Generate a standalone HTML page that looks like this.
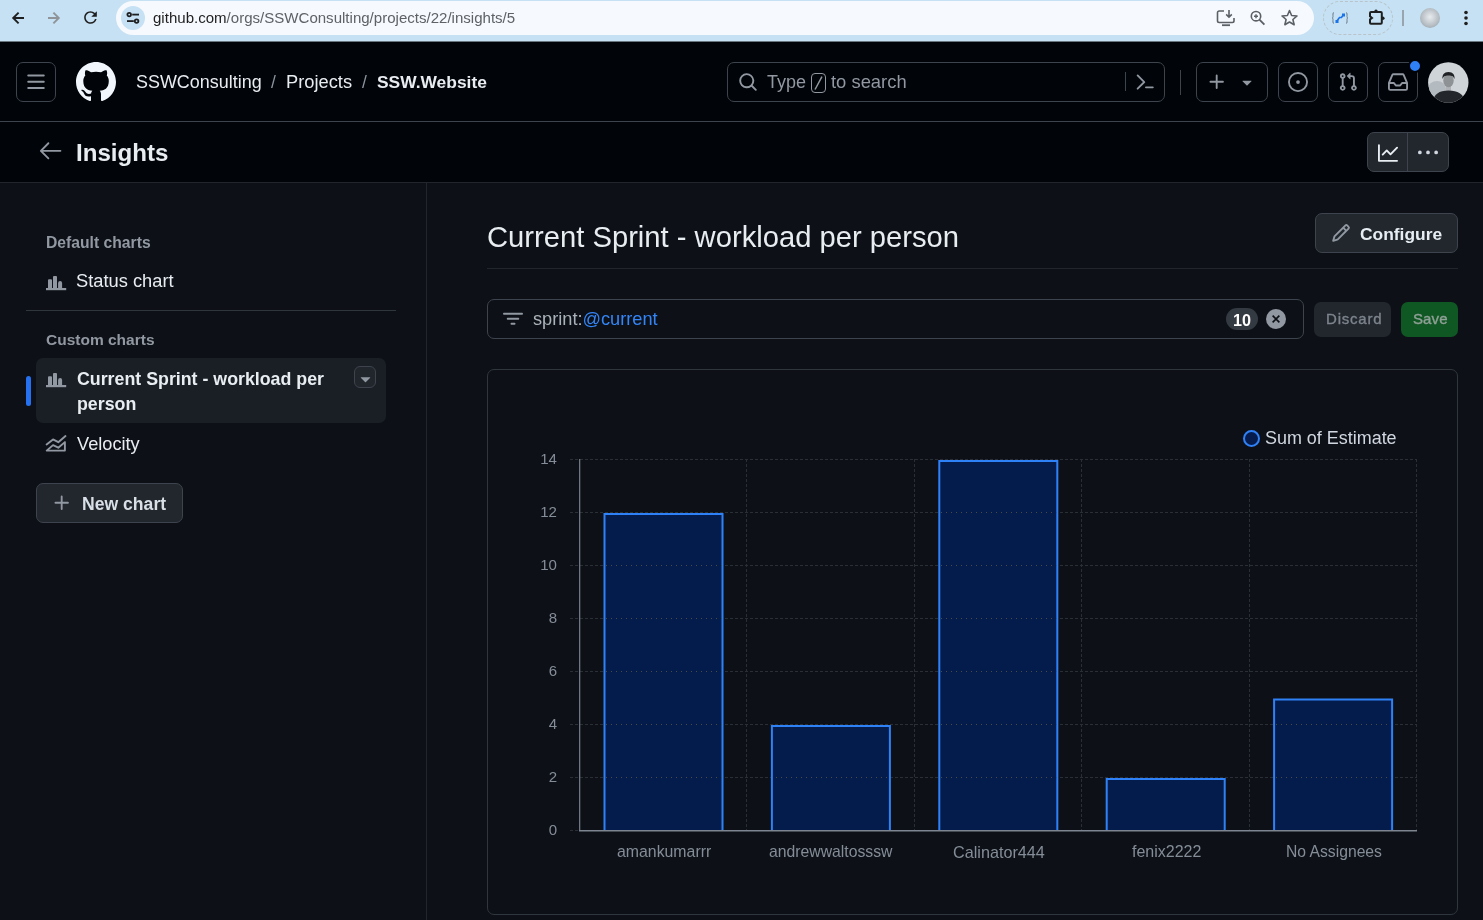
<!DOCTYPE html>
<html><head><meta charset="utf-8"><title>Insights</title>
<style>
html,body{margin:0;padding:0;}
body{width:1483px;height:920px;overflow:hidden;position:relative;background:#0d1117;font-family:"Liberation Sans",sans-serif;}
.t{position:absolute;white-space:nowrap;will-change:transform;line-height:1.1172;}
svg{display:block;}
</style></head><body>

<div style="position:absolute;left:0px;top:0px;width:1483px;height:41px;background:#c5e1f3;"></div>
<div style="position:absolute;left:0px;top:41px;width:1483px;height:1px;background:#6b7680;"></div>
<svg style="position:absolute;left:0px;top:0px;" width="110" height="36" viewBox="0 0 110 36"><path d="M24 18H13.6M18.6 12.6 13.2 18l5.4 5.4" fill="none" stroke="#1f1f1f" stroke-width="1.9"/><path d="M48 18h10.4M53.4 12.6 58.8 18l-5.4 5.4" fill="none" stroke="#8f9499" stroke-width="1.9"/></svg>
<svg style="position:absolute;left:80.8px;top:8.2px;" width="19" height="19" viewBox="0 0 24 24"><path d="M17.65 6.35A7.958 7.958 0 0 0 12 4c-4.42 0-7.99 3.58-7.99 8s3.57 8 7.99 8c3.73 0 6.84-2.55 7.73-6h-2.08A5.99 5.99 0 0 1 12 18c-3.31 0-6-2.69-6-6s2.69-6 6-6c1.66 0 3.14.69 4.22 1.78L13 11h7V4l-2.35 2.35z" fill="#1f1f1f"/></svg>
<div style="position:absolute;left:116px;top:1px;width:1198px;height:34px;background:#f6f9fd;border-radius:17px;"></div>
<div style="position:absolute;left:121px;top:6px;width:24px;height:24px;background:#c5e1f3;border-radius:50%;"></div>
<svg style="position:absolute;left:126px;top:11px;" width="14" height="14" viewBox="0 0 14 14"><circle cx="3.2" cy="3.6" r="1.8" fill="none" stroke="#1f1f1f" stroke-width="1.8"/><rect x="6.2" y="2.7" width="6.8" height="1.8" fill="#1f1f1f"/><circle cx="10.6" cy="10.1" r="1.8" fill="none" stroke="#1f1f1f" stroke-width="1.8"/><rect x="1" y="9.2" width="6.8" height="1.8" fill="#1f1f1f"/></svg>
<div class="t" style="left:153.00px;top:9.78px;font-size:15.05px;color:#5e6266;"><span style="color:#1f1f1f">github.com</span>/orgs/SSWConsulting/projects/22/insights/5</div>
<svg style="position:absolute;left:1216px;top:9px;" width="20" height="18" viewBox="0 0 20 18"><path d="M8 2H3.2A1.7 1.7 0 0 0 1.5 3.7v8.1a1.7 1.7 0 0 0 1.7 1.7h13.1a1.7 1.7 0 0 0 1.7-1.7V9" fill="none" stroke="#5b6066" stroke-width="1.6"/><path d="M6 16.2h8" stroke="#5b6066" stroke-width="1.8"/><path d="M13 1v7M10.2 5.4 13 8.2l2.8-2.8" fill="none" stroke="#5b6066" stroke-width="1.6"/></svg>
<svg style="position:absolute;left:1249px;top:10px;" width="18" height="18" viewBox="0 0 18 18"><circle cx="7" cy="6.2" r="4.7" fill="none" stroke="#5b6066" stroke-width="1.6"/><path d="M10.4 9.6l5 5" stroke="#5b6066" stroke-width="1.8"/><path d="M7 4.2v4M5 6.2h4" stroke="#5b6066" stroke-width="1.4"/></svg>
<svg style="position:absolute;left:1280px;top:9px;" width="19" height="18" viewBox="0 0 24 24"><path d="M12 17.27 18.18 21l-1.64-7.03L22 9.24l-7.19-.61L12 2 9.19 8.63 2 9.24l5.46 4.73L5.82 21z" fill="none" stroke="#5b6066" stroke-width="2.1" stroke-linejoin="round"/></svg>
<div style="position:absolute;left:1323px;top:1px;width:70px;height:34px;border:1px dashed #b9c3ca;border-radius:17px;box-sizing:border-box;"></div>
<svg style="position:absolute;left:1331px;top:11px;" width="18" height="14" viewBox="0 0 18 14"><path d="M3 1.5C1.6 1.5 2 4 2 5.5S1 7 1 7s1 0 1 1.5-.4 4 1 4M15 1.5c1.4 0 1 2.5 1 4S17 7 17 7s-1 0-1 1.5.4 4-1 4" fill="none" stroke="#6a7a88" stroke-width="1"/><path d="M5.5 10.5l3-4 2 0 2-3" fill="none" stroke="#1a73e8" stroke-width="1.6"/><rect x="4.5" y="9" width="3" height="3" fill="#1a73e8"/><rect x="11" y="2.5" width="3" height="3" fill="#1a73e8"/></svg>
<svg style="position:absolute;left:1366px;top:8px;" width="22" height="20" viewBox="0 0 22 20"><path d="M5 4h9.8a1 1 0 0 1 1 1v9.8a1 1 0 0 1-1 1H5a1 1 0 0 1-1-1v-3.3l2-1.6-2-1.6V5a1 1 0 0 1 1-1z" fill="none" stroke="#1f1f1f" stroke-width="2"/><circle cx="10" cy="3.2" r="1.7" fill="#1f1f1f"/><circle cx="16.8" cy="10.2" r="1.8" fill="#1f1f1f"/></svg>
<div style="position:absolute;left:1402px;top:10px;width:2px;height:16px;background:#98a4ae;"></div>
<div style="position:absolute;left:1420px;top:8px;width:20px;height:20px;border-radius:50%;background:radial-gradient(circle at 50% 45%,#e8ecef 0,#b9c0c6 55%,#8e979f 100%);"></div>
<svg style="position:absolute;left:1462px;top:10px;" width="8" height="16" viewBox="0 0 8 16"><circle cx="4" cy="2.5" r="1.8" fill="#1f1f1f"/><circle cx="4" cy="8" r="1.8" fill="#1f1f1f"/><circle cx="4" cy="13.5" r="1.8" fill="#1f1f1f"/></svg>
<div style="position:absolute;left:0px;top:42px;width:1483px;height:79px;background:#010409;"></div>
<div style="position:absolute;left:0px;top:121px;width:1483px;height:1px;background:#3d444d;"></div>
<div style="position:absolute;left:16px;top:62px;width:40px;height:40px;border:1px solid #3d444d;border-radius:7px;box-sizing:border-box;"></div>
<svg style="position:absolute;left:26px;top:72px;" width="20" height="20" viewBox="0 0 16 16"><path d="M1 2.75A.75.75 0 0 1 1.75 2h12.5a.75.75 0 0 1 0 1.5H1.75A.75.75 0 0 1 1 2.75Zm0 5A.75.75 0 0 1 1.75 7h12.5a.75.75 0 0 1 0 1.5H1.75A.75.75 0 0 1 1 7.75ZM1.75 12h12.5a.75.75 0 0 1 0 1.5H1.75a.75.75 0 0 1 0-1.5Z" fill="#9198a1"/></svg>
<svg style="position:absolute;left:76px;top:62px;" width="40" height="40" viewBox="0 0 16 16"><path fill-rule="evenodd" d="M8 0c4.42 0 8 3.58 8 8a8.013 8.013 0 0 1-5.45 7.59c-.4.08-.55-.17-.55-.38 0-.27.01-1.13.01-2.2 0-.75-.25-1.23-.54-1.48 1.78-.2 3.65-.88 3.65-3.95 0-.88-.31-1.59-.82-2.15.08-.2.36-1.02-.08-2.12 0 0-.67-.22-2.2.82-.64-.18-1.32-.27-2-.27-.68 0-1.36.09-2 .27-1.53-1.03-2.2-.82-2.2-.82-.44 1.1-.16 1.920-.08 2.12-.51.56-.82 1.28-.82 2.15 0 3.06 1.86 3.75 3.64 3.95-.23.2-.44.55-.51 1.07-.46.21-1.61.55-2.33-.66-.15-.24-.6-.83-1.23-.82-.67.01-.27.38.01.53.34.19.73.9.82 1.13.16.45.68 1.31 2.69.94 0 .67.01 1.3.01 1.49 0 .21-.15.45-.55.38A7.995 7.995 0 0 1 0 8c0-4.42 3.58-8 8-8Z" fill="#f0f6fc"/></svg>
<div class="t" style="left:136.00px;top:72.35px;font-size:17.95px;color:#e8edf2;">SSWConsulting</div>
<div class="t" style="left:271.00px;top:72.76px;font-size:17.5px;color:#8b949e;">/</div>
<div class="t" style="left:286.00px;top:72.03px;font-size:18.3px;color:#e8edf2;">Projects</div>
<div class="t" style="left:362.00px;top:72.76px;font-size:17.5px;color:#8b949e;">/</div>
<div class="t" style="left:377.00px;top:72.85px;font-size:17.4px;color:#e8edf2;font-weight:700;">SSW.Website</div>
<div style="position:absolute;left:727px;top:62px;width:438px;height:40px;border:1px solid #3d444d;border-radius:7px;box-sizing:border-box;"></div>
<svg style="position:absolute;left:738px;top:72px;" width="20" height="20" viewBox="0 0 16 16"><path d="M10.68 11.74a6 6 0 0 1-7.922-8.982 6 6 0 0 1 8.982 7.922l3.04 3.04a.749.749 0 0 1-.326 1.275.749.749 0 0 1-.734-.215ZM11.5 7a4.499 4.499 0 1 0-8.997 0A4.499 4.499 0 0 0 11.5 7Z" fill="#9198a1"/></svg>
<div class="t" style="left:767.00px;top:72.30px;font-size:18.0px;color:#9198a1;">Type</div>
<div style="position:absolute;left:811px;top:73px;width:15px;height:20px;border:1px solid #9198a1;border-radius:4px;box-sizing:border-box;"></div>
<svg style="position:absolute;left:811px;top:73px;" width="15" height="20" viewBox="0 0 15 20"><path d="M10.7 4.1 4.3 16" stroke="#9198a1" stroke-width="1.5" stroke-linecap="round"/></svg>
<div class="t" style="left:831.00px;top:71.94px;font-size:18.4px;color:#9198a1;">to search</div>
<div style="position:absolute;left:1125px;top:72px;width:1px;height:19px;background:#3d444d;"></div>
<svg style="position:absolute;left:1135px;top:72px;" width="20" height="20" viewBox="0 0 16 16"><path d="m6.354 8.04-4.773 4.756a.75.75 0 1 0 1.061 1.06L7.945 8.57a.75.75 0 0 0 0-1.06L2.642 2.206a.75.75 0 0 0-1.06 1.061L6.353 8.04ZM8.75 11.5a.75.75 0 0 0 0 1.5h5.5a.75.75 0 0 0 0-1.5h-5.5Z" fill="#9198a1"/></svg>
<div style="position:absolute;left:1180px;top:70px;width:1px;height:25px;background:#3d444d;"></div>
<div style="position:absolute;left:1196px;top:62px;width:72px;height:40px;border:1px solid #3d444d;border-radius:7px;box-sizing:border-box;"></div>
<svg style="position:absolute;left:1207px;top:72px;" width="20" height="20" viewBox="0 0 16 16"><path d="M7.75 2a.75.75 0 0 1 .75.75V7h4.25a.75.75 0 0 1 0 1.5H8.5v4.25a.75.75 0 0 1-1.5 0V8.5H2.75a.75.75 0 0 1 0-1.5H7V2.75A.75.75 0 0 1 7.75 2Z" fill="#9198a1"/></svg>
<svg style="position:absolute;left:1237px;top:72px;" width="20" height="20" viewBox="0 0 16 16"><path d="m4.427 7.427 3.396 3.396a.25.25 0 0 0 .354 0l3.396-3.396A.25.25 0 0 0 11.396 7H4.604a.25.25 0 0 0-.177.427Z" fill="#9198a1"/></svg>
<div style="position:absolute;left:1278px;top:62px;width:40px;height:40px;border:1px solid #3d444d;border-radius:7px;box-sizing:border-box;"></div>
<svg style="position:absolute;left:1288px;top:72px;" width="20" height="20" viewBox="0 0 16 16"><path d="M8 9.5a1.5 1.5 0 1 0 0-3 1.5 1.5 0 0 0 0 3Z" fill="#9198a1"/><path d="M8 0a8 8 0 1 1 0 16A8 8 0 0 1 8 0ZM1.5 8a6.5 6.5 0 1 0 13 0 6.5 6.5 0 0 0-13 0Z" fill="#9198a1"/></svg>
<div style="position:absolute;left:1328px;top:62px;width:40px;height:40px;border:1px solid #3d444d;border-radius:7px;box-sizing:border-box;"></div>
<svg style="position:absolute;left:1338px;top:72px;" width="20" height="20" viewBox="0 0 16 16"><path d="M1.5 3.25a2.25 2.25 0 1 1 3 2.122v5.256a2.251 2.251 0 1 1-1.5 0V5.372A2.25 2.25 0 0 1 1.5 3.25Zm5.677-.177L9.573.677A.25.25 0 0 1 10 .854V2.5h1A2.5 2.5 0 0 1 13.5 5v5.628a2.251 2.251 0 1 1-1.5 0V5a1 1 0 0 0-1-1h-1v1.646a.25.25 0 0 1-.427.177L7.177 3.427a.25.25 0 0 1 0-.354ZM3.75 2.5a.75.75 0 1 0 0 1.5.75.75 0 0 0 0-1.5Zm0 9.5a.75.75 0 1 0 0 1.5.75.75 0 0 0 0-1.5Zm8.25.75a.75.75 0 1 0 1.5 0 .75.75 0 0 0-1.5 0Z" fill="#9198a1"/></svg>
<div style="position:absolute;left:1378px;top:62px;width:40px;height:40px;border:1px solid #3d444d;border-radius:7px;box-sizing:border-box;"></div>
<svg style="position:absolute;left:1388px;top:72px;" width="20" height="20" viewBox="0 0 16 16"><path d="M2.8 2.06A1.75 1.75 0 0 1 4.41 1h7.18c.7 0 1.333.417 1.61 1.06l2.74 6.395c.04.093.06.194.06.295v4.5A1.75 1.75 0 0 1 14.25 15H1.75A1.75 1.75 0 0 1 0 13.25v-4.5c0-.101.02-.202.06-.295Zm1.61.44a.25.25 0 0 0-.23.152L1.887 8H4.75a.75.75 0 0 1 .6.3L6.625 10h2.75l1.275-1.7a.75.75 0 0 1 .6-.3h2.863L11.82 2.652a.25.25 0 0 0-.23-.152Zm10.09 7h-2.875l-1.275 1.7a.75.75 0 0 1-.6.3h-3.5a.75.75 0 0 1-.6-.3L4.375 9.5H1.5v3.75c0 .138.112.25.25.25h12.5a.25.25 0 0 0 .25-.25Z" fill="#9198a1"/></svg>
<div style="position:absolute;left:1408px;top:59px;width:14px;height:14px;background:#2f7ff5;border-radius:50%;border:2px solid #010409;box-sizing:border-box;"></div>
<svg style="position:absolute;left:1428px;top:62px" width="41" height="41" viewBox="0 0 41 41"><defs><clipPath id="av"><circle cx="20.3" cy="20.5" r="20.2"/></clipPath></defs><g clip-path="url(#av)"><rect width="41" height="41" fill="#cfd4d8"/><ellipse cx="9" cy="27" rx="9" ry="8" fill="#b3bac0"/><rect x="18" y="22" width="5" height="7" fill="#b0b3b6"/><ellipse cx="20.5" cy="18.5" rx="5.2" ry="6.8" fill="#8f9295"/><path d="M14.5 17c-.5-4 1.5-7 6-7s6.5 3 6 7c-1-2.5-2-3.5-6-3.5s-5 1-6 3.5z" fill="#1f2124"/><path d="M4 41C6 32 11 28.5 20.5 28.5S35 32 38 40v1z" fill="#23272b"/></g></svg>
<div style="position:absolute;left:0px;top:122px;width:1483px;height:60px;background:#010409;"></div>
<div style="position:absolute;left:0px;top:182px;width:1483px;height:1px;background:#21262d;"></div>
<svg style="position:absolute;left:36.2px;top:135.8px;" width="29" height="29" viewBox="0 0 24 24"><path d="M10.78 19.03a.75.75 0 0 1-1.06 0l-6.25-6.25a.75.75 0 0 1 0-1.06l6.25-6.25a.749.749 0 0 1 1.275.326.749.749 0 0 1-.215.734L5.81 11.5h14.44a.75.75 0 0 1 0 1.5H5.81l4.97 4.97a.75.75 0 0 1 0 1.06Z" fill="#9198a1"/></svg>
<div class="t" style="left:76.00px;top:140.18px;font-size:24.1px;color:#e8edf2;font-weight:700;">Insights</div>
<div style="position:absolute;left:1367px;top:132px;width:82px;height:40px;background:#22272e;border:1px solid #3d444d;border-radius:7px;box-sizing:border-box;"></div>
<div style="position:absolute;left:1407px;top:132px;width:1px;height:40px;background:#3d444d;"></div>
<svg style="position:absolute;left:1378px;top:143px;" width="20" height="20" viewBox="0 0 16 16"><path d="M1.5 1.75V13.5h13.75a.75.75 0 0 1 0 1.5H.75a.75.75 0 0 1-.75-.75V1.75a.75.75 0 0 1 1.5 0Zm14.28 2.53-5.25 5.25a.75.75 0 0 1-1.06 0L7 7.06 4.28 9.78a.751.751 0 0 1-1.042-.018.751.751 0 0 1-.018-1.042l3.25-3.25a.75.75 0 0 1 1.06 0L10 7.94l4.72-4.72a.751.751 0 0 1 1.042.018.751.751 0 0 1 .018 1.042Z" fill="#e8edf2"/></svg>
<svg style="position:absolute;left:1418px;top:143px;" width="20" height="20" viewBox="0 0 16 16"><path d="M8 9a1.5 1.5 0 1 0 0-3 1.5 1.5 0 0 0 0 3ZM1.5 9a1.5 1.5 0 1 0 0-3 1.5 1.5 0 0 0 0 3Zm13 0a1.5 1.5 0 1 0 0-3 1.5 1.5 0 0 0 0 3Z" fill="#d1d7e0"/></svg>
<div style="position:absolute;left:426px;top:183px;width:1px;height:737px;background:#21262d;"></div>
<div class="t" style="left:46.00px;top:233.69px;font-size:15.7px;color:#9198a1;font-weight:700;">Default charts</div>
<svg style="position:absolute;left:46px;top:276px;" width="21" height="15" viewBox="0 0 21 15"><rect x="0" y="12" width="20.2" height="2.2" fill="#9198a1"/><path d="M2 12V4.2a1 1 0 0 1 1-1h2a1 1 0 0 1 1 1V12z" fill="#9198a1"/><path d="M7 12V1a1 1 0 0 1 1-1h2a1 1 0 0 1 1 1v11z" fill="#9198a1"/><path d="M12.1 12V7a2 2 0 0 1 4 0v5z" fill="#9198a1"/></svg>
<div class="t" style="left:76.00px;top:271.43px;font-size:18.3px;color:#e8edf2;">Status chart</div>
<div style="position:absolute;left:26px;top:310px;width:370px;height:1px;background:#30363d;"></div>
<div class="t" style="left:46.00px;top:330.97px;font-size:15.5px;color:#9198a1;font-weight:700;">Custom charts</div>
<div style="position:absolute;left:36px;top:358px;width:350px;height:65px;background:#1a1f26;border-radius:7px;"></div>
<div style="position:absolute;left:26px;top:376px;width:5px;height:30px;background:#2671f0;border-radius:3px;"></div>
<svg style="position:absolute;left:46px;top:373px;" width="21" height="15" viewBox="0 0 21 15"><rect x="0" y="12" width="20.2" height="2.2" fill="#9198a1"/><path d="M2 12V4.2a1 1 0 0 1 1-1h2a1 1 0 0 1 1 1V12z" fill="#9198a1"/><path d="M7 12V1a1 1 0 0 1 1-1h2a1 1 0 0 1 1 1v11z" fill="#9198a1"/><path d="M12.1 12V7a2 2 0 0 1 4 0v5z" fill="#9198a1"/></svg>
<div class="t" style="left:77.00px;top:370.29px;font-size:17.8px;color:#e8edf2;font-weight:700;">Current Sprint - workload per</div>
<div class="t" style="left:77.00px;top:395.09px;font-size:17.8px;color:#e8edf2;font-weight:700;">person</div>
<div style="position:absolute;left:354px;top:366px;width:22px;height:22px;background:#21262d;border:1px solid #3d444d;border-radius:6px;box-sizing:border-box;"></div>
<svg style="position:absolute;left:355px;top:368px;" width="21" height="21" viewBox="0 0 16 16"><path d="m4.427 7.427 3.396 3.396a.25.25 0 0 0 .354 0l3.396-3.396A.25.25 0 0 0 11.396 7H4.604a.25.25 0 0 0-.177.427Z" fill="#9198a1"/></svg>
<svg style="position:absolute;left:40px;top:428px;" width="30" height="30" viewBox="0 0 30 30"><path d="M6.6 16.4 13 11.4l5.3 2.8 7.2-6.2" fill="none" stroke="#9198a1" stroke-width="1.9" stroke-linecap="round" stroke-linejoin="round"/><path d="M6.7 22.6 13 17.1l5.3 2.6 6.6-5.6v8.5z" fill="none" stroke="#9198a1" stroke-width="1.9" stroke-linecap="round" stroke-linejoin="round"/></svg>
<div class="t" style="left:77.00px;top:434.12px;font-size:18.2px;color:#e8edf2;">Velocity</div>
<div style="position:absolute;left:36px;top:483px;width:147px;height:40px;background:#22272e;border:1px solid #3d444d;border-radius:7px;box-sizing:border-box;"></div>
<svg style="position:absolute;left:52px;top:493px;" width="20" height="20" viewBox="0 0 16 16"><path d="M7.75 2a.75.75 0 0 1 .75.75V7h4.25a.75.75 0 0 1 0 1.5H8.5v4.25a.75.75 0 0 1-1.5 0V8.5H2.75a.75.75 0 0 1 0-1.5H7V2.75A.75.75 0 0 1 7.75 2Z" fill="#9198a1"/></svg>
<div class="t" style="left:82.00px;top:495.07px;font-size:17.6px;color:#d9dfe6;font-weight:700;">New chart</div>
<div class="t" style="left:487.00px;top:221.07px;font-size:29.2px;color:#e8edf2;">Current Sprint - workload per person</div>
<div style="position:absolute;left:487px;top:268px;width:971px;height:1px;background:#21262d;"></div>
<div style="position:absolute;left:1315px;top:213px;width:143px;height:40px;background:#22272e;border:1px solid #3d444d;border-radius:7px;box-sizing:border-box;"></div>
<svg style="position:absolute;left:1331px;top:223px;" width="20" height="20" viewBox="0 0 16 16"><path d="M11.013 1.427a1.75 1.75 0 0 1 2.474 0l1.086 1.086a1.75 1.75 0 0 1 0 2.474l-8.61 8.61c-.21.21-.47.364-.756.445l-3.251.93a.75.75 0 0 1-.927-.928l.929-3.25c.081-.286.235-.547.445-.758l8.61-8.61Zm.176 4.823L9.75 4.81l-6.286 6.287a.253.253 0 0 0-.064.108l-.558 1.953 1.953-.558a.253.253 0 0 0 .108-.064Zm1.238-3.763a.25.25 0 0 0-.354 0L10.811 3.75l1.439 1.44 1.263-1.263a.25.25 0 0 0 0-.354Z" fill="#9198a1"/></svg>
<div class="t" style="left:1360.00px;top:224.75px;font-size:17.4px;color:#e6edf3;font-weight:700;">Configure</div>
<div style="position:absolute;left:487px;top:299px;width:817px;height:40px;border:1px solid #3d444d;border-radius:7px;box-sizing:border-box;"></div>
<svg style="position:absolute;left:503px;top:309px;" width="20" height="20" viewBox="0 0 16 16"><path d="M.75 3h14.5a.75.75 0 0 1 0 1.5H.75a.75.75 0 0 1 0-1.5ZM3 7.75A.75.75 0 0 1 3.75 7h8.5a.75.75 0 0 1 0 1.5h-8.5A.75.75 0 0 1 3 7.75Zm3 4a.75.75 0 0 1 .75-.75h2.5a.75.75 0 0 1 0 1.5h-2.5a.75.75 0 0 1-.75-.75Z" fill="#9198a1"/></svg>
<div class="t" style="left:533.00px;top:308.52px;font-size:18.2px;color:#aab2ba;">sprint:<span style="color:#3385f8">@current</span></div>
<div style="position:absolute;left:1226px;top:308px;width:32px;height:22px;background:#343a42;border-radius:11px;"></div>
<div class="t" style="left:1233.30px;top:310.53px;font-size:16.2px;color:#ffffff;font-weight:700;">10</div>
<svg style="position:absolute;left:1266px;top:309px;" width="20" height="20" viewBox="0 0 16 16"><circle cx="8" cy="8" r="8" fill="#9198a1"/><path d="M5.3 5.3l5.4 5.4M10.7 5.3l-5.4 5.4" stroke="#0d1117" stroke-width="1.3"/></svg>
<div style="position:absolute;left:1314px;top:302px;width:77px;height:35px;background:#22272e;border-radius:7px;"></div>
<div class="t" style="left:1325.50px;top:311.42px;font-size:15px;color:#7d848c;letter-spacing:0.8px;-webkit-text-stroke:0.35px #7d848c;">Discard</div>
<div style="position:absolute;left:1401px;top:302px;width:57px;height:35px;background:#105823;border-radius:7px;"></div>
<div class="t" style="left:1412.50px;top:311.42px;font-size:15.0px;color:#8fa096;letter-spacing:0.1px;-webkit-text-stroke:0.35px #8fa096;">Save</div>
<div style="position:absolute;left:487px;top:369px;width:971px;height:546px;border:1px solid #30363d;border-radius:7px;box-sizing:border-box;"></div>
<svg style="position:absolute;left:0;top:0" width="1483" height="920" viewBox="0 0 1483 920">
<line x1="570" y1="830.5" x2="1417" y2="830.5" stroke="#2a2f36" stroke-width="1" stroke-dasharray="3 2"/>
<line x1="570" y1="777.5" x2="1417" y2="777.5" stroke="#2a2f36" stroke-width="1" stroke-dasharray="3 2"/>
<line x1="570" y1="724.5" x2="1417" y2="724.5" stroke="#2a2f36" stroke-width="1" stroke-dasharray="3 2"/>
<line x1="570" y1="671.5" x2="1417" y2="671.5" stroke="#2a2f36" stroke-width="1" stroke-dasharray="3 2"/>
<line x1="570" y1="618.5" x2="1417" y2="618.5" stroke="#2a2f36" stroke-width="1" stroke-dasharray="3 2"/>
<line x1="570" y1="565.5" x2="1417" y2="565.5" stroke="#2a2f36" stroke-width="1" stroke-dasharray="3 2"/>
<line x1="570" y1="512.5" x2="1417" y2="512.5" stroke="#2a2f36" stroke-width="1" stroke-dasharray="3 2"/>
<line x1="570" y1="459.5" x2="1417" y2="459.5" stroke="#2a2f36" stroke-width="1" stroke-dasharray="3 2"/>
<line x1="746.5" y1="459" x2="746.5" y2="830" stroke="#2a2f36" stroke-width="1" stroke-dasharray="3 2"/>
<line x1="914.5" y1="459" x2="914.5" y2="830" stroke="#2a2f36" stroke-width="1" stroke-dasharray="3 2"/>
<line x1="1081.5" y1="459" x2="1081.5" y2="830" stroke="#2a2f36" stroke-width="1" stroke-dasharray="3 2"/>
<line x1="1249.5" y1="459" x2="1249.5" y2="830" stroke="#2a2f36" stroke-width="1" stroke-dasharray="3 2"/>
<line x1="1416.5" y1="459" x2="1416.5" y2="830" stroke="#2a2f36" stroke-width="1" stroke-dasharray="3 2"/>
<rect x="603.50" y="513.00" width="120" height="318.00" fill="#2f81f7"/>
<rect x="605.50" y="515.00" width="116" height="316.00" fill="#041c4b"/>
<line x1="605.50" y1="777.5" x2="721.50" y2="777.5" stroke="#4b4a45" stroke-width="1" stroke-dasharray="1 4" stroke-dashoffset="4.50"/>
<line x1="605.50" y1="724.5" x2="721.50" y2="724.5" stroke="#4b4a45" stroke-width="1" stroke-dasharray="1 4" stroke-dashoffset="4.50"/>
<line x1="605.50" y1="671.5" x2="721.50" y2="671.5" stroke="#4b4a45" stroke-width="1" stroke-dasharray="1 4" stroke-dashoffset="4.50"/>
<line x1="605.50" y1="618.5" x2="721.50" y2="618.5" stroke="#4b4a45" stroke-width="1" stroke-dasharray="1 4" stroke-dashoffset="4.50"/>
<line x1="605.50" y1="565.5" x2="721.50" y2="565.5" stroke="#4b4a45" stroke-width="1" stroke-dasharray="1 4" stroke-dashoffset="4.50"/>
<rect x="770.90" y="725.00" width="120" height="106.00" fill="#2f81f7"/>
<rect x="772.90" y="727.00" width="116" height="104.00" fill="#041c4b"/>
<line x1="772.90" y1="777.5" x2="888.90" y2="777.5" stroke="#4b4a45" stroke-width="1" stroke-dasharray="1 4" stroke-dashoffset="1.90"/>
<rect x="938.30" y="460.00" width="120" height="371.00" fill="#2f81f7"/>
<rect x="940.30" y="462.00" width="116" height="369.00" fill="#041c4b"/>
<line x1="940.30" y1="777.5" x2="1056.30" y2="777.5" stroke="#4b4a45" stroke-width="1" stroke-dasharray="1 4" stroke-dashoffset="4.30"/>
<line x1="940.30" y1="724.5" x2="1056.30" y2="724.5" stroke="#4b4a45" stroke-width="1" stroke-dasharray="1 4" stroke-dashoffset="4.30"/>
<line x1="940.30" y1="671.5" x2="1056.30" y2="671.5" stroke="#4b4a45" stroke-width="1" stroke-dasharray="1 4" stroke-dashoffset="4.30"/>
<line x1="940.30" y1="618.5" x2="1056.30" y2="618.5" stroke="#4b4a45" stroke-width="1" stroke-dasharray="1 4" stroke-dashoffset="4.30"/>
<line x1="940.30" y1="565.5" x2="1056.30" y2="565.5" stroke="#4b4a45" stroke-width="1" stroke-dasharray="1 4" stroke-dashoffset="4.30"/>
<line x1="940.30" y1="512.5" x2="1056.30" y2="512.5" stroke="#4b4a45" stroke-width="1" stroke-dasharray="1 4" stroke-dashoffset="4.30"/>
<rect x="1105.70" y="778.00" width="120" height="53.00" fill="#2f81f7"/>
<rect x="1107.70" y="780.00" width="116" height="51.00" fill="#041c4b"/>
<rect x="1273.10" y="698.50" width="120" height="132.50" fill="#2f81f7"/>
<rect x="1275.10" y="700.50" width="116" height="130.50" fill="#041c4b"/>
<line x1="1275.10" y1="777.5" x2="1391.10" y2="777.5" stroke="#4b4a45" stroke-width="1" stroke-dasharray="1 4" stroke-dashoffset="4.10"/>
<line x1="1275.10" y1="724.5" x2="1391.10" y2="724.5" stroke="#4b4a45" stroke-width="1" stroke-dasharray="1 4" stroke-dashoffset="4.10"/>
<rect x="579" y="459" width="1.3" height="372" fill="#6e7681"/>
<rect x="579" y="830" width="838" height="1.5" fill="#7d8590"/>
</svg>
<div class="t" style="left:507.2px;width:50px;text-align:right;top:821.97px;font-size:15.06px;color:#848d97;">0</div>
<div class="t" style="left:507.2px;width:50px;text-align:right;top:768.97px;font-size:15.06px;color:#848d97;">2</div>
<div class="t" style="left:507.2px;width:50px;text-align:right;top:715.97px;font-size:15.06px;color:#848d97;">4</div>
<div class="t" style="left:507.2px;width:50px;text-align:right;top:662.97px;font-size:15.06px;color:#848d97;">6</div>
<div class="t" style="left:507.2px;width:50px;text-align:right;top:609.97px;font-size:15.06px;color:#848d97;">8</div>
<div class="t" style="left:507.2px;width:50px;text-align:right;top:556.97px;font-size:15.06px;color:#848d97;">10</div>
<div class="t" style="left:507.2px;width:50px;text-align:right;top:503.97px;font-size:15.06px;color:#848d97;">12</div>
<div class="t" style="left:507.2px;width:50px;text-align:right;top:450.97px;font-size:15.06px;color:#848d97;">14</div>
<div class="t" style="left:616.60px;top:842.95px;font-size:15.85px;color:#848d97;">amankumarrr</div>
<div class="t" style="left:769.00px;top:843.03px;font-size:15.76px;color:#848d97;">andrewwaltosssw</div>
<div class="t" style="left:952.70px;top:842.63px;font-size:16.2px;color:#848d97;">Calinator444</div>
<div class="t" style="left:1131.60px;top:842.82px;font-size:16.0px;color:#848d97;">fenix2222</div>
<div class="t" style="left:1285.60px;top:843.09px;font-size:15.7px;color:#848d97;">No Assignees</div>
<div style="position:absolute;left:1243px;top:430px;width:17px;height:17px;border:2px solid #2f81f7;background:#061c4c;border-radius:50%;box-sizing:border-box;"></div>
<div class="t" style="left:1265.00px;top:427.75px;font-size:17.95px;color:#d1d7e0;">Sum of Estimate</div>
</body></html>
